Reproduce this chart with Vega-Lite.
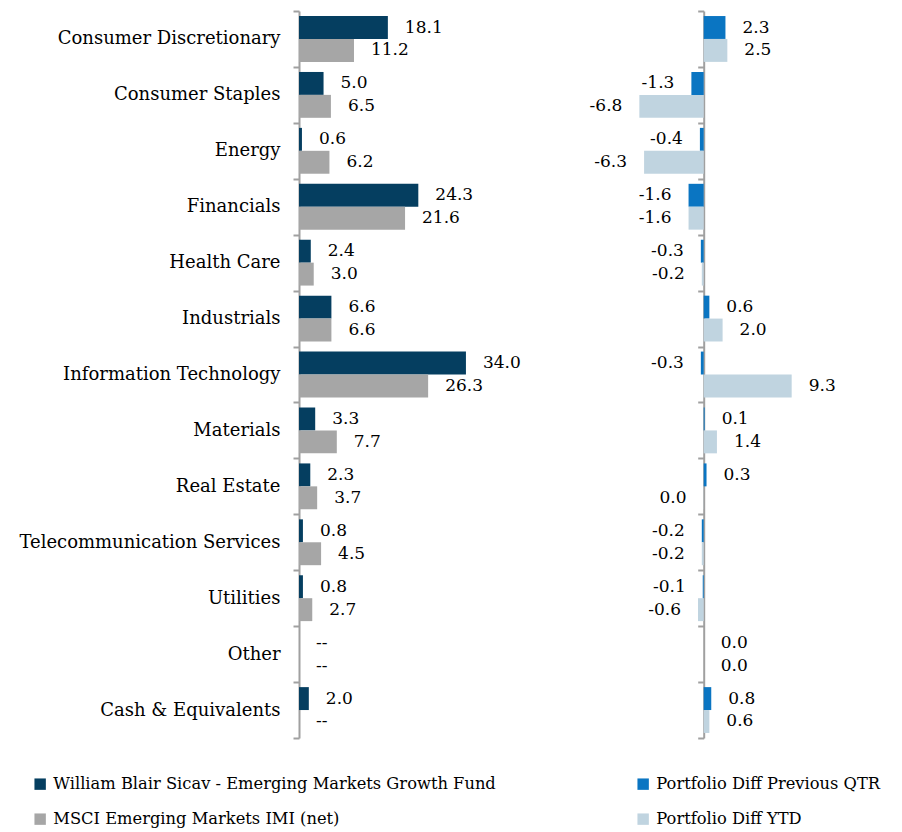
{
  "$schema": "https://vega.github.io/schema/vega-lite/v6.json",
  "padding": {"left": 0, "top": 2, "right": 0, "bottom": 0},
  "background": "white",
  "config": {"view": {"stroke": null}, "font": "DejaVu Serif"},
  "datasets": {
    "holdings": [
      {"category": "Consumer Discretionary", "series": "William Blair Sicav - Emerging Markets Growth Fund", "value": 18.1, "label": "18.1"},
      {"category": "Consumer Discretionary", "series": "MSCI Emerging Markets IMI (net)", "value": 11.2, "label": "11.2"},
      {"category": "Consumer Staples", "series": "William Blair Sicav - Emerging Markets Growth Fund", "value": 5.0, "label": "5.0"},
      {"category": "Consumer Staples", "series": "MSCI Emerging Markets IMI (net)", "value": 6.5, "label": "6.5"},
      {"category": "Energy", "series": "William Blair Sicav - Emerging Markets Growth Fund", "value": 0.6, "label": "0.6"},
      {"category": "Energy", "series": "MSCI Emerging Markets IMI (net)", "value": 6.2, "label": "6.2"},
      {"category": "Financials", "series": "William Blair Sicav - Emerging Markets Growth Fund", "value": 24.3, "label": "24.3"},
      {"category": "Financials", "series": "MSCI Emerging Markets IMI (net)", "value": 21.6, "label": "21.6"},
      {"category": "Health Care", "series": "William Blair Sicav - Emerging Markets Growth Fund", "value": 2.4, "label": "2.4"},
      {"category": "Health Care", "series": "MSCI Emerging Markets IMI (net)", "value": 3.0, "label": "3.0"},
      {"category": "Industrials", "series": "William Blair Sicav - Emerging Markets Growth Fund", "value": 6.6, "label": "6.6"},
      {"category": "Industrials", "series": "MSCI Emerging Markets IMI (net)", "value": 6.6, "label": "6.6"},
      {"category": "Information Technology", "series": "William Blair Sicav - Emerging Markets Growth Fund", "value": 34.0, "label": "34.0"},
      {"category": "Information Technology", "series": "MSCI Emerging Markets IMI (net)", "value": 26.3, "label": "26.3"},
      {"category": "Materials", "series": "William Blair Sicav - Emerging Markets Growth Fund", "value": 3.3, "label": "3.3"},
      {"category": "Materials", "series": "MSCI Emerging Markets IMI (net)", "value": 7.7, "label": "7.7"},
      {"category": "Real Estate", "series": "William Blair Sicav - Emerging Markets Growth Fund", "value": 2.3, "label": "2.3"},
      {"category": "Real Estate", "series": "MSCI Emerging Markets IMI (net)", "value": 3.7, "label": "3.7"},
      {"category": "Telecommunication Services", "series": "William Blair Sicav - Emerging Markets Growth Fund", "value": 0.8, "label": "0.8"},
      {"category": "Telecommunication Services", "series": "MSCI Emerging Markets IMI (net)", "value": 4.5, "label": "4.5"},
      {"category": "Utilities", "series": "William Blair Sicav - Emerging Markets Growth Fund", "value": 0.8, "label": "0.8"},
      {"category": "Utilities", "series": "MSCI Emerging Markets IMI (net)", "value": 2.7, "label": "2.7"},
      {"category": "Other", "series": "William Blair Sicav - Emerging Markets Growth Fund", "value": 0, "label": "--"},
      {"category": "Other", "series": "MSCI Emerging Markets IMI (net)", "value": 0, "label": "--"},
      {"category": "Cash & Equivalents", "series": "William Blair Sicav - Emerging Markets Growth Fund", "value": 2.0, "label": "2.0"},
      {"category": "Cash & Equivalents", "series": "MSCI Emerging Markets IMI (net)", "value": 0, "label": "--"}
    ],
    "diffs": [
      {"category": "Consumer Discretionary", "series": "Portfolio Diff Previous QTR", "value": 2.3, "label": "2.3"},
      {"category": "Consumer Discretionary", "series": "Portfolio Diff YTD", "value": 2.5, "label": "2.5"},
      {"category": "Consumer Staples", "series": "Portfolio Diff Previous QTR", "value": -1.3, "label": "-1.3"},
      {"category": "Consumer Staples", "series": "Portfolio Diff YTD", "value": -6.8, "label": "-6.8"},
      {"category": "Energy", "series": "Portfolio Diff Previous QTR", "value": -0.4, "label": "-0.4"},
      {"category": "Energy", "series": "Portfolio Diff YTD", "value": -6.3, "label": "-6.3"},
      {"category": "Financials", "series": "Portfolio Diff Previous QTR", "value": -1.6, "label": "-1.6"},
      {"category": "Financials", "series": "Portfolio Diff YTD", "value": -1.6, "label": "-1.6"},
      {"category": "Health Care", "series": "Portfolio Diff Previous QTR", "value": -0.3, "label": "-0.3"},
      {"category": "Health Care", "series": "Portfolio Diff YTD", "value": -0.2, "label": "-0.2"},
      {"category": "Industrials", "series": "Portfolio Diff Previous QTR", "value": 0.6, "label": "0.6"},
      {"category": "Industrials", "series": "Portfolio Diff YTD", "value": 2.0, "label": "2.0"},
      {"category": "Information Technology", "series": "Portfolio Diff Previous QTR", "value": -0.3, "label": "-0.3"},
      {"category": "Information Technology", "series": "Portfolio Diff YTD", "value": 9.3, "label": "9.3"},
      {"category": "Materials", "series": "Portfolio Diff Previous QTR", "value": 0.1, "label": "0.1"},
      {"category": "Materials", "series": "Portfolio Diff YTD", "value": 1.4, "label": "1.4"},
      {"category": "Real Estate", "series": "Portfolio Diff Previous QTR", "value": 0.3, "label": "0.3"},
      {"category": "Real Estate", "series": "Portfolio Diff YTD", "value": -0.02, "label": "0.0"},
      {"category": "Telecommunication Services", "series": "Portfolio Diff Previous QTR", "value": -0.2, "label": "-0.2"},
      {"category": "Telecommunication Services", "series": "Portfolio Diff YTD", "value": -0.2, "label": "-0.2"},
      {"category": "Utilities", "series": "Portfolio Diff Previous QTR", "value": -0.1, "label": "-0.1"},
      {"category": "Utilities", "series": "Portfolio Diff YTD", "value": -0.6, "label": "-0.6"},
      {"category": "Other", "series": "Portfolio Diff Previous QTR", "value": 0, "label": "0.0"},
      {"category": "Other", "series": "Portfolio Diff YTD", "value": 0, "label": "0.0"},
      {"category": "Cash & Equivalents", "series": "Portfolio Diff Previous QTR", "value": 0.8, "label": "0.8"},
      {"category": "Cash & Equivalents", "series": "Portfolio Diff YTD", "value": 0.6, "label": "0.6"}
    ]
  },
  "spacing": 68,
  "resolve": {"scale": {"color": "independent", "y": "independent", "yOffset": "independent"}, "legend": {"color": "independent"}},
  "hconcat": [
    {
      "width": 196.4,
      "height": 727,
      "data": {"name": "holdings"},
      "encoding": {
        "y": {"field": "category", "type": "nominal", "sort": null,
          "scale": {"paddingInner": 0, "paddingOuter": 0},
          "axis": {"title": null, "tickBand": "extent", "labelFontSize": 18, "labelColor": "#000", "labelPadding": 13, "tickSize": 6, "domainColor": "#a0a0a0", "tickColor": "#a0a0a0", "domainWidth": 2, "tickWidth": 2, "minExtent": 299, "maxExtent": 299, "labelLimit": 400, "labelFont": "DejaVu Serif"}},
        "yOffset": {"field": "series", "type": "nominal", "sort": null, "scale": {"paddingOuter": 0.22, "paddingInner": 0}}
      },
      "layer": [
        {
          "mark": {"type": "bar"},
          "encoding": {
            "x": {"field": "value", "type": "quantitative", "scale": {"domain": [0, 40], "nice": false}, "axis": null},
            "color": {"field": "series", "type": "nominal", "sort": null,
              "scale": {"domain": ["William Blair Sicav - Emerging Markets Growth Fund", "MSCI Emerging Markets IMI (net)"], "range": ["#053e60", "#a6a6a6"]},
              "legend": {"title": null, "orient": "none", "legendX": -267, "legendY": 765, "symbolType": "square", "symbolSize": 130, "symbolStrokeWidth": 0, "labelFontSize": 16.3, "labelFont": "DejaVu Serif", "labelColor": "#000", "labelLimit": 600, "rowPadding": 18, "labelOffset": 5}}
          }
        },
        {
          "mark": {"type": "text", "align": "left", "baseline": "middle", "dx": 17, "fontSize": 17, "font": "DejaVu Serif", "color": "#000"},
          "encoding": {
            "x": {"field": "value", "type": "quantitative"},
            "text": {"field": "label"}
          }
        }
      ]
    },
    {
      "width": 170.3,
      "height": 727,
      "data": {"name": "diffs"},
      "encoding": {
        "y": {"field": "category", "type": "nominal", "sort": null,
          "scale": {"paddingInner": 0, "paddingOuter": 0},
          "axis": {"title": null, "labels": false, "tickBand": "extent", "tickSize": 6, "domainColor": "#a0a0a0", "tickColor": "#a0a0a0", "domainWidth": 2, "tickWidth": 2, "offset": -75.7, "minExtent": 0, "maxExtent": 0}},
        "yOffset": {"field": "series", "type": "nominal", "sort": null, "scale": {"paddingOuter": 0.22, "paddingInner": 0}}
      },
      "layer": [
        {
          "mark": {"type": "bar"},
          "encoding": {
            "x": {"field": "value", "type": "quantitative", "scale": {"domain": [-8, 10], "nice": false}, "axis": null},
            "color": {"field": "series", "type": "nominal", "sort": null,
              "scale": {"domain": ["Portfolio Diff Previous QTR", "Portfolio Diff YTD"], "range": ["#0a75c2", "#c0d4e0"]},
              "legend": {"title": null, "orient": "none", "legendX": 7, "legendY": 765, "symbolType": "square", "symbolSize": 130, "symbolStrokeWidth": 0, "labelFontSize": 16.3, "labelFont": "DejaVu Serif", "labelColor": "#000", "labelLimit": 600, "rowPadding": 18, "labelOffset": 5}}
          }
        },
        {
          "transform": [{"filter": "datum.value >= 0"}],
          "mark": {"type": "text", "align": "left", "baseline": "middle", "dx": 17, "fontSize": 17, "font": "DejaVu Serif", "color": "#000"},
          "encoding": {
            "x": {"field": "value", "type": "quantitative"},
            "text": {"field": "label"}
          }
        },
        {
          "transform": [{"filter": "datum.value < 0"}],
          "mark": {"type": "text", "align": "right", "baseline": "middle", "dx": -17, "fontSize": 17, "font": "DejaVu Serif", "color": "#000"},
          "encoding": {
            "x": {"field": "value", "type": "quantitative"},
            "text": {"field": "label"}
          }
        }
      ]
    }
  ]
}
